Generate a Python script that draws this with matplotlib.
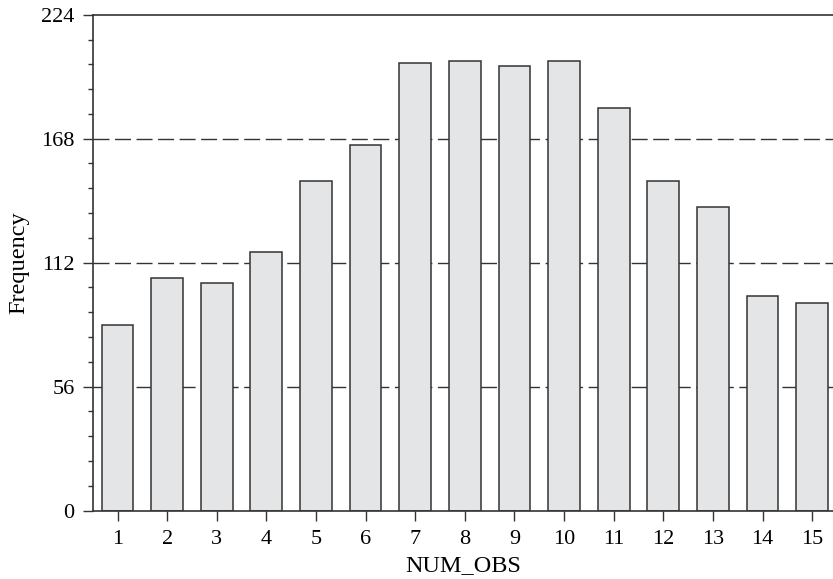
import matplotlib.pyplot as plt
from matplotlib.ticker import MultipleLocator

# data
num_obs = list(range(1, 16))
freq = [84, 105, 103, 117, 149, 165, 202, 203, 201, 203, 182, 149, 137, 97, 94]
yticks = [0, 56, 112, 168, 224]

plt.rcParams['font.family'] = ['Liberation Serif', 'DejaVu Serif']

fig = plt.figure(figsize=(8.33, 5.79), dpi=100)
ax = fig.add_axes([0.1113, 0.118, 0.8887, 0.8566])

edge = '#333333'

# dashed reference lines behind the bars
for v in yticks[1:4]:
    ax.axhline(v, color=edge, lw=1.0, dashes=(11.5, 4), zorder=1)

ax.bar(num_obs, freq, width=0.64, color='#e4e5e7', edgecolor=edge,
       linewidth=1.1, zorder=2)

ax.set_xlim(0.5, 15.42)
ax.set_ylim(0, 224)
ax.set_xticks(num_obs)
ax.set_yticks(yticks)
ax.yaxis.set_minor_locator(MultipleLocator(11.2))

for s in ['left', 'top', 'bottom']:
    ax.spines[s].set_color(edge)
    ax.spines[s].set_linewidth(1.2)
ax.spines['right'].set_visible(False)

ax.tick_params(axis='both', which='major', length=7, width=1.0, color=edge,
               labelsize=16, direction='out')
ax.tick_params(axis='x', pad=7)
ax.tick_params(axis='y', pad=6)
ax.tick_params(axis='y', which='minor', length=3.5, width=1.0, color=edge)
ax.tick_params(axis='x', which='minor', bottom=False)

ax.set_xlabel('NUM_OBS', fontsize=17.5, labelpad=4)
ax.set_ylabel('Frequency', fontsize=17.5, labelpad=9)

plt.savefig('out.png', dpi=100)
